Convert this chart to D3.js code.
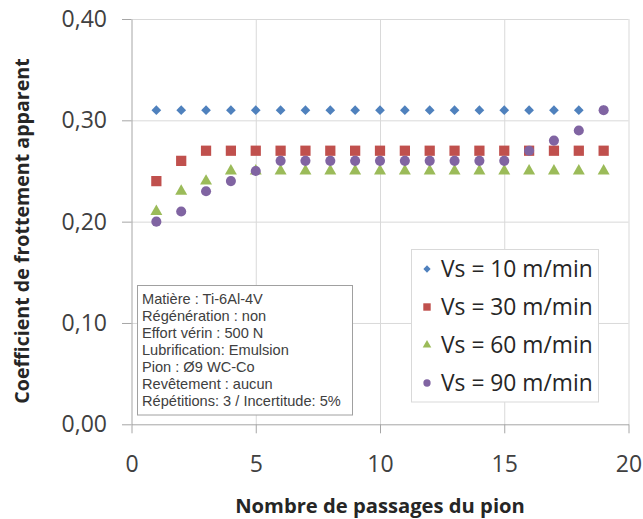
<!DOCTYPE html>
<html><head><meta charset="utf-8">
<script src="https://cdn.jsdelivr.net/npm/d3@7"></script>
<style>html,body{margin:0;padding:0;background:#fff;}svg{display:block;}</style>
</head><body>
<svg id="chart" width="643" height="519"></svg>
<script>
// ---- data ----
const passes = [1,2,3,4,5,6,7,8,9,10,11,12,13,14,15,16,17,18,19];
const vs10 = [0.31,0.31,0.31,0.31,0.31,0.31,0.31,0.31,0.31,0.31,0.31,0.31,0.31,0.31,0.31,0.31,0.31,0.31,0.31];
const vs30 = [0.24,0.26,0.27,0.27,0.27,0.27,0.27,0.27,0.27,0.27,0.27,0.27,0.27,0.27,0.27,0.27,0.27,0.27,0.27];
const vs60 = [0.21,0.23,0.24,0.25,0.25,0.25,0.25,0.25,0.25,0.25,0.25,0.25,0.25,0.25,0.25,0.25,0.25,0.25,0.25];
const vs90 = [0.20,0.21,0.23,0.24,0.25,0.26,0.26,0.26,0.26,0.26,0.26,0.26,0.26,0.26,0.26,0.27,0.28,0.29,0.31];
const seriesNames = ["Vs = 10 m/min","Vs = 30 m/min","Vs = 60 m/min","Vs = 90 m/min"];
const xTicks = [0,5,10,15,20];
const yTicks = [0,0.1,0.2,0.3,0.4];
const xTitle = "Nombre de passages du pion";
const yTitle = "Coefficient de frottement apparent";
const infoLines = [
  "Matière : Ti-6Al-4V",
  "Régénération : non",
  "Effort vérin : 500 N",
  "Lubrification: Emulsion",
  "Pion : Ø9 WC-Co",
  "Revêtement : aucun",
  "Répétitions: 3 / Incertitude: 5%"
];

// ---- layout ----
const svg = d3.select("#chart");
const L = 131.5, R = 628.5, T = 19, B = 424.3;
const x = d3.scaleLinear().domain([0,20]).range([L,R]);
const y = d3.scaleLinear().domain([0,0.4]).range([B,T]);
const font = "'Open Sans', sans-serif";
const colors = ["#4F81BD","#C0504D","#9BBB59","#8064A2"];
const symbols = [d3.symbolDiamond2, d3.symbolSquare, d3.symbolTriangle, d3.symbolCircle];
const sizes = [60, 105, 62, 80];
const legendSizes = [34, 55, 32, 42];

// gridlines
svg.append("g").attr("transform",`translate(0,${B})`)
  .call(d3.axisBottom(x).tickValues(xTicks.slice(1)).tickSize(-(B-T)).tickFormat(""))
  .call(g=>{g.select(".domain").remove();g.selectAll("line").attr("stroke","#D9D9D9").attr("stroke-width",1);});
svg.append("g").attr("transform",`translate(${L},0)`)
  .call(d3.axisLeft(y).tickValues(yTicks.slice(1)).tickSize(-(R-L)).tickFormat(""))
  .call(g=>{g.select(".domain").remove();g.selectAll("line").attr("stroke","#D9D9D9").attr("stroke-width",1);});

// axes
const fmt = d => d3.format(".2f")(d).replace(".",",");
svg.append("g").attr("transform",`translate(${L},0)`)
  .call(d3.axisLeft(y).tickValues(yTicks).tickSize(9.5).tickSizeOuter(0).tickPadding(15).tickFormat(fmt))
  .call(g=>{g.select(".domain").attr("stroke","#A6A6A6");g.selectAll("line").attr("stroke","#A6A6A6");
    g.selectAll("text").attr("font-family",font).attr("font-size",23).attr("fill","#404040");});
svg.append("g").attr("transform",`translate(0,${B})`)
  .call(d3.axisBottom(x).tickValues(xTicks).tickSize(9).tickSizeOuter(0).tickPadding(22).tickFormat(d=>d))
  .call(g=>{g.select(".domain").attr("stroke","#A6A6A6");g.selectAll("line").attr("stroke","#A6A6A6");
    g.selectAll("text").attr("font-family",font).attr("font-size",23).attr("fill","#404040");});

// titles
svg.append("text").attr("x",380).attr("y",513).attr("text-anchor","middle")
  .attr("font-family",font).attr("font-weight","bold").attr("font-size",20.2).attr("fill","#262626").text(xTitle);
svg.append("text").attr("transform","translate(29,231) rotate(-90)").attr("text-anchor","middle")
  .attr("font-family",font).attr("font-weight","bold").attr("font-size",19.6).attr("fill","#262626").text(yTitle);

// series
const all = [vs10,vs30,vs60,vs90];
all.forEach((vals,i)=>{
  svg.append("g").selectAll("path").data(passes.map((p,j)=>[p,vals[j]])).join("path")
    .attr("transform",d=>`translate(${x(d[0])},${y(d[1])})`)
    .attr("d",d3.symbol(symbols[i],sizes[i]))
    .attr("fill",colors[i]);
});

// info box
const ib = svg.append("g");
ib.append("rect").attr("x",137.5).attr("y",285.5).attr("width",215).attr("height",129.5)
  .attr("fill","#fff").attr("stroke","#A0A0A0").attr("stroke-width",1);
ib.selectAll("text").data(infoLines).join("text")
  .attr("x",142).attr("y",(d,i)=>304+i*17)
  .attr("font-family","'Liberation Sans', Arial, sans-serif").attr("font-size",14.6).attr("fill","#404040")
  .text(d=>d);

// legend
const lg = svg.append("g");
lg.append("rect").attr("x",411.5).attr("y",249.5).attr("width",187).attr("height",152.5)
  .attr("fill","#fff").attr("stroke","#D9D9D9").attr("stroke-width",1);
seriesNames.forEach((n,i)=>{
  const cy = 269 + i*38;
  lg.append("path").attr("transform",`translate(427,${cy})`)
    .attr("d",d3.symbol(symbols[i],legendSizes[i])).attr("fill",colors[i]);
  lg.append("text").attr("x",441).attr("y",cy+8).attr("font-family",font).attr("font-size",22.8)
    .attr("fill","#262626").text(n);
});
</script>
</body></html>
